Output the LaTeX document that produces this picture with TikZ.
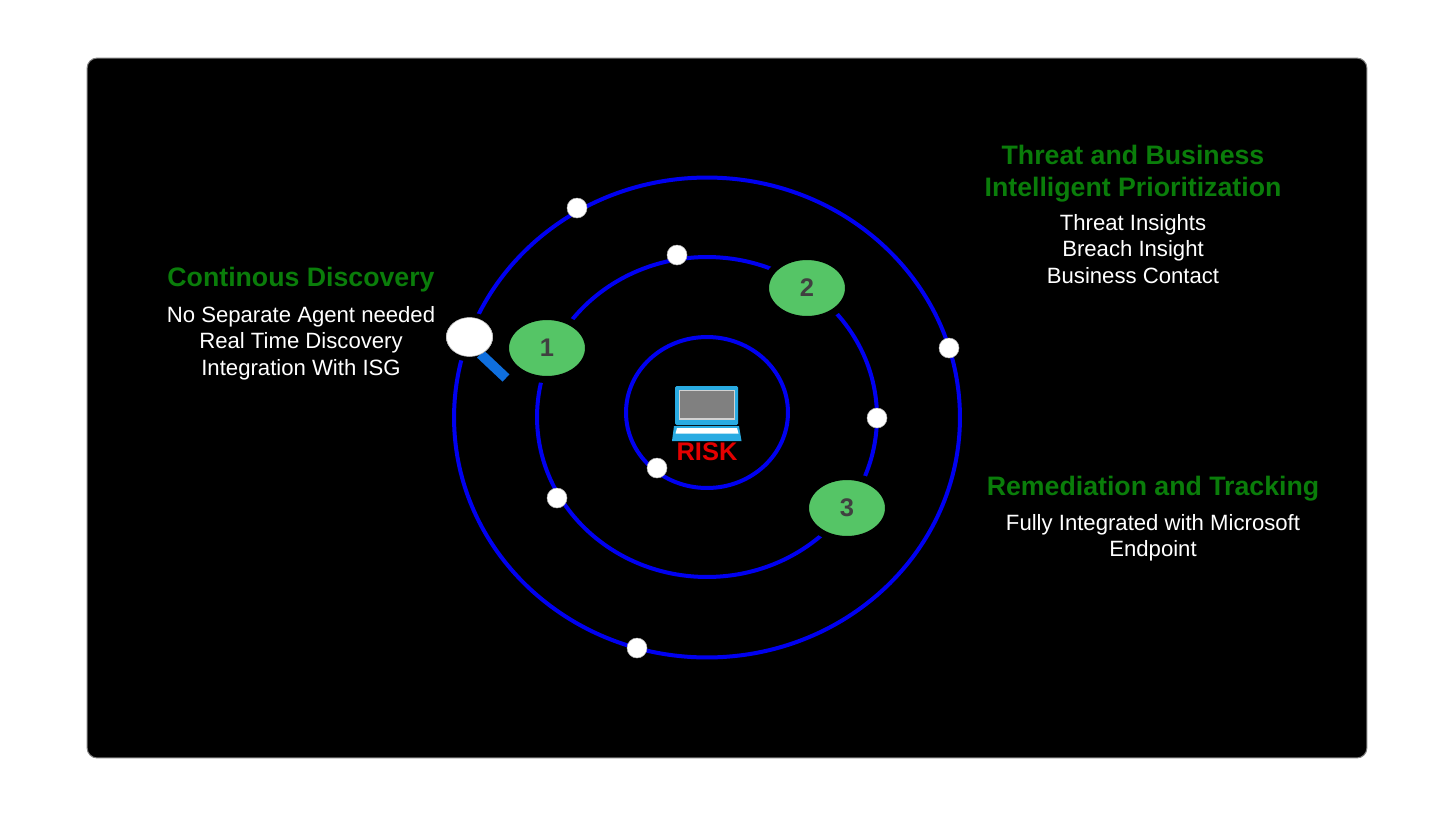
\documentclass[tikz,border=0pt]{standalone}
\usepackage{fontspec}
\setmainfont{Liberation Sans}
\usepackage{xcolor}
\usetikzlibrary{shapes.geometric}
\definecolor{orbitblue}{HTML}{0000F0}
\definecolor{stepgreen}{HTML}{55C566}
\definecolor{headgreen}{HTML}{0A7D0A}
\definecolor{lensblue}{HTML}{0F6FDE}
\definecolor{laptopblue}{HTML}{29ABE2}
\begin{document}
\begin{tikzpicture}[
    x=0.02cm, y=-0.02cm,
    orbit/.style={ellipse, draw=orbitblue, line width=0.08cm, inner sep=0pt},
    planet/.style={circle, draw=gray!60, line width=0.01cm, fill=white, minimum size=0.4cm, inner sep=0pt},
    stepnode/.style={ellipse, draw=black, line width=0.14cm, fill=stepgreen, minimum width=1.66cm, minimum height=1.26cm, inner sep=0pt, text=black!75, font=\fontsize{14.5}{14.5}\selectfont\bfseries},
    head/.style={text=headgreen, align=center, font=\fontsize{15.2}{18.2}\selectfont\bfseries},
    info/.style={text=white, align=center, font=\fontsize{12.6}{15.2}\selectfont}
]
\useasboundingbox (0,0) rectangle (1453,815);
\node[rectangle, draw=gray, line width=0.02cm, fill=black, rounded corners=0.2cm, minimum width=25.6cm, minimum height=14cm, inner sep=0pt] (panel) at (727,408) {};

% Orbits
\node[orbit, minimum width=10.12cm, minimum height=9.6cm] (outer) at (707,417.5) {};
\node[orbit, minimum width=6.8cm, minimum height=6.4cm] (middle) at (707,417) {};
\node[orbit, minimum width=3.24cm, minimum height=3.02cm] (inner) at (707,412.5) {};

% Dots on the orbits
\node[planet] (dota) at (577,208) {};
\node[planet] (dotb) at (949,348) {};
\node[planet] (dotc) at (637,648) {};
\node[planet] (dotd) at (677,255) {};
\node[planet] (dote) at (877,418) {};
\node[planet] (dotf) at (557,498) {};
\node[planet] (dotg) at (657,468) {};

% Numbered steps
\node[stepnode] (stepa) at (547,348) {1};
\node[stepnode] (stepb) at (807,288) {2};
\node[stepnode] (stepc) at (847,508) {3};

% Magnifier
\coordinate (handle) at (506,378);
\node[ellipse, draw=black, line width=0.1cm, fill=white, minimum width=1.04cm, minimum height=0.88cm, inner sep=0pt] (lens) at (469.5,337) {};
\draw[lensblue, line width=0.2cm] (lens) ++(11,17) -- (handle);
\node[ellipse, draw=gray!60, line width=0.01cm, fill=white, minimum width=0.92cm, minimum height=0.78cm, inner sep=0pt] (glass) at (469.5,337) {};

% Laptop
\fill[laptopblue, rounded corners=0.03cm] (675,386) rectangle (738,425);
\fill[gray!35] (678.5,389.5) rectangle (734.5,419.5);
\fill[gray] (680,391) rectangle (733.5,418);
\fill[laptopblue] (674,426) -- (739,426) -- (741.5,441) -- (672,441) -- cycle;
\fill[white] (677,428) -- (737,428) -- (738.5,433.5) -- (675.5,433.5) -- cycle;
\node[text=red!90!black, font=\fontsize{14.5}{14.5}\selectfont\bfseries] (risk) at (707,452) {RISK};

% Labels
\node[head, anchor=south] (conthead) at (301,298) {Continous Discovery};
\node[info, anchor=north] (continfo) at (301,300) {No Separate Agent needed\\Real Time Discovery\\Integration With ISG};
\node[head, anchor=south] (threathead) at (1133,208) {Threat and Business\\Intelligent Prioritization};
\node[info, anchor=north] (threatinfo) at (1133,208) {Threat Insights\\Breach Insight\\Business Contact};
\node[head, anchor=south] (remhead) at (1153,507) {Remediation and Tracking};
\node[info, anchor=north] (reminfo) at (1153,508) {Fully Integrated with Microsoft\\Endpoint};
\end{tikzpicture}
\end{document}
